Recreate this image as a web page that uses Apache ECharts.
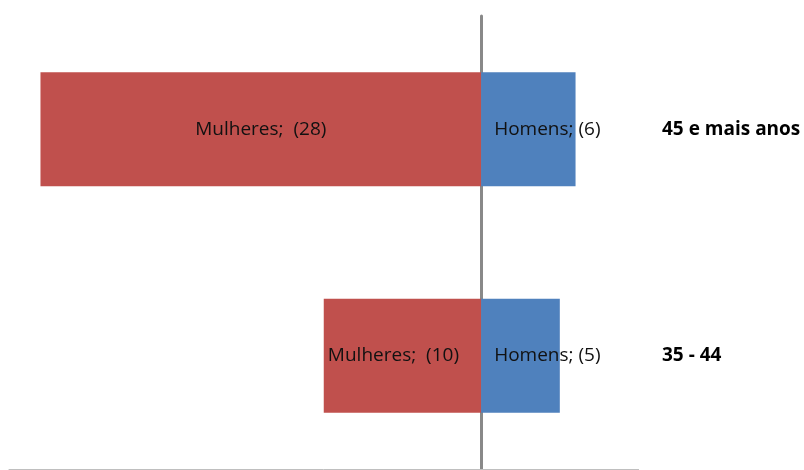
<!DOCTYPE html>
<html>
<head>
<meta charset="utf-8">
<script src="https://cdn.jsdelivr.net/npm/echarts@6/dist/echarts.min.js"></script>
<style>
html,body{margin:0;padding:0;background:#fff;}
#chart{width:804px;height:470px;}
</style>
</head>
<body>
<div id="chart"></div>
<script>
const categories = ['35 - 44', '45 e mais anos'];
const mulheres = [-10, -28];
const homens = [5, 6];
const xMin = -30, xMax = 10, xInterval = 5;

const FONT = 'Open Sans';
const chart = echarts.init(document.getElementById('chart'), null, {renderer: 'canvas'});
chart.setOption({
  animation: false,
  backgroundColor: '#ffffff',
  grid: {left: 9, right: 165.5, top: 16, bottom: 1, containLabel: false},
  xAxis: {
    type: 'value', min: xMin, max: xMax, interval: xInterval,
    axisLine: {show: true, onZero: false, lineStyle: {color: '#bfbfbf', width: 1}},
    axisTick: {show: true, length: 5, lineStyle: {color: '#bfbfbf'}},
    axisLabel: {show: false},
    splitLine: {show: false}
  },
  yAxis: [
    {
      type: 'category', data: categories,
      axisLine: {show: true, onZero: true, lineStyle: {color: '#898989', width: 3}},
      axisTick: {show: false},
      axisLabel: {show: false}
    },
    {
      type: 'category', data: categories, position: 'right',
      axisLine: {show: false}, axisTick: {show: false},
      axisLabel: {show: true, margin: 23.5, align: 'left', color: '#000',
        fontFamily: FONT, fontWeight: 'bold', fontSize: 19}
    }
  ],
  series: [
    {
      name: 'Mulheres', type: 'bar', stack: 'total', yAxisIndex: 0,
      barWidth: 114, z: 1,
      itemStyle: {color: '#C0504D'},
      label: {show: true, position: 'inside', color: '#111', fontFamily: FONT, fontSize: 19,
        formatter: p => 'Mulheres;  (' + Math.abs(p.value) + ')'},
      data: mulheres.map((v, i) => i === 0 ? {value: v, label: {offset: [-9, 0]}} : v)
    },
    {
      name: 'Homens', type: 'bar', stack: 'total', yAxisIndex: 0,
      barWidth: 114, z: 1,
      itemStyle: {color: '#4F81BD'},
      label: {show: true, position: 'insideLeft', distance: 13, color: '#111', fontFamily: FONT, fontSize: 19,
        formatter: p => 'Homens; (' + p.value + ')'},
      data: homens
    }
  ]
});
</script>
</body>
</html>
